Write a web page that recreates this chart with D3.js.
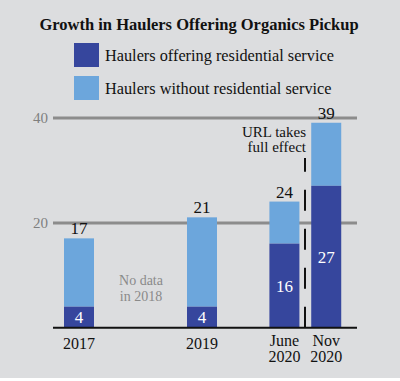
<!doctype html>
<html>
<head>
<meta charset="utf-8">
<title>Organics pickup</title>
<script src="https://d3js.org/d3.v7.min.js"></script>
<style>
  body { margin: 0; background: #fff; }
  text { font-family: "Liberation Serif", serif; }
</style>
</head>
<body>
<div id="chart"></div>
<script>
const categories = ['2017', '2019', 'June 2020', 'Nov 2020']
const residential = [4, 4, 16, 27]
const withoutResidential = [13, 17, 8, 12]
const yTicks = [20, 40]
const seriesNames = ['Haulers offering residential service', 'Haulers without residential service']

const W = 400, H = 381
const colors = ['#36469d', '#6ca6dc']
// slot along x: 2018 left empty, the 2020 bars sit closer together
const slots = [0, 2, 3.34, 4.02]

const svg = d3.select('#chart').append('svg')
    .attr('width', W).attr('height', H)

svg.append('rect').attr('width', W).attr('height', 378).attr('fill', '#dcdddf')

svg.append('text')
    .attr('x', 199).attr('y', 30)
    .attr('text-anchor', 'middle')
    .attr('font-weight', 'bold')
    .attr('font-size', 16.5)
    .attr('fill', '#111')
    .text('Growth in Haulers Offering Organics Pickup')

const legend = svg.selectAll('g.legend').data(seriesNames).join('g')
    .attr('class', 'legend')
    .attr('transform', (d, i) => `translate(74,${43 + i * 33})`)
legend.append('rect').attr('width', 25).attr('height', 24)
    .attr('fill', (d, i) => colors[i])
legend.append('text').attr('x', 31).attr('y', 17.5)
    .attr('font-size', 16.3).attr('fill', '#111')
    .text(d => d)

const y = d3.scaleLinear().domain([0, 40]).range([327.7, 117.5])
const x = d3.scaleLinear().domain([0, 4]).range([79, 325])
const barW = 30

svg.append('g')
    .attr('transform', 'translate(53,0)')
    .call(d3.axisRight(y).tickValues(yTicks).tickSize(304).tickFormat(''))
    .call(g => g.select('.domain').remove())
    .call(g => g.selectAll('.tick line').attr('stroke', '#8c8c8c').attr('stroke-width', 3))

svg.selectAll('text.ytick').data(yTicks).join('text')
    .attr('class', 'ytick')
    .attr('x', 48).attr('y', d => y(d) + 5)
    .attr('text-anchor', 'end')
    .attr('font-size', 15).attr('fill', '#7f7f7f')
    .text(d => d)

const rows = categories.map((c, i) => ({
    cat: c, pos: slots[i], res: residential[i], other: withoutResidential[i],
    total: residential[i] + withoutResidential[i]
}))

svg.selectAll('rect.other').data(rows).join('rect')
    .attr('class', 'other')
    .attr('x', d => x(d.pos) - barW / 2).attr('width', barW)
    .attr('y', d => y(d.total)).attr('height', d => y(d.res) - y(d.total))
    .attr('fill', colors[1])

svg.selectAll('rect.res').data(rows).join('rect')
    .attr('class', 'res')
    .attr('x', d => x(d.pos) - barW / 2).attr('width', barW)
    .attr('y', d => y(d.res)).attr('height', d => y(0) - y(d.res))
    .attr('fill', colors[0])

svg.selectAll('text.total').data(rows).join('text')
    .attr('class', 'total')
    .attr('x', d => x(d.pos)).attr('y', d => y(d.total) - 4)
    .attr('text-anchor', 'middle').attr('font-size', 17).attr('fill', '#111')
    .text(d => d.total)

svg.selectAll('text.resval').data(rows).join('text')
    .attr('class', 'resval')
    .attr('x', d => x(d.pos))
    .attr('y', d => y(d.res / 2) + 6)
    .attr('text-anchor', 'middle').attr('font-size', 17).attr('fill', '#fff')
    .text(d => d.res)

// dashed divider
svg.append('line')
    .attr('x1', 305).attr('x2', 305)
    .attr('y1', y(0)).attr('y2', 158)
    .attr('stroke', '#111').attr('stroke-width', 2)
    .attr('stroke-dasharray', '21 18')

svg.append('line')
    .attr('x1', 53).attr('x2', 357)
    .attr('y1', y(0)).attr('y2', y(0))
    .attr('stroke', '#111').attr('stroke-width', 2)

const ann = svg.append('text').attr('text-anchor', 'end')
    .attr('font-size', 15).attr('fill', '#111')
ann.append('tspan').attr('x', 306).attr('y', 137).text('URL takes')
ann.append('tspan').attr('x', 306).attr('y', 152).text('full effect')

const nd = svg.append('text').attr('text-anchor', 'middle')
    .attr('font-size', 14).attr('fill', '#8a8a8a')
nd.append('tspan').attr('x', 141).attr('y', 284.5).text('No data')
nd.append('tspan').attr('x', 141).attr('y', 300.5).text('in 2018')

svg.selectAll('text.xlab').data(rows).join('text')
    .attr('class', 'xlab')
    .attr('text-anchor', 'middle').attr('font-size', 16).attr('fill', '#111')
    .each(function (d) {
        const parts = d.cat.split(' ')
        const t = d3.select(this)
        parts.forEach((p, k) => {
            t.append('tspan').attr('x', x(d.pos))
                .attr('y', parts.length > 1 ? 346 + k * 16 : 349)
                .text(p)
        })
    })
</script>
</body>
</html>
